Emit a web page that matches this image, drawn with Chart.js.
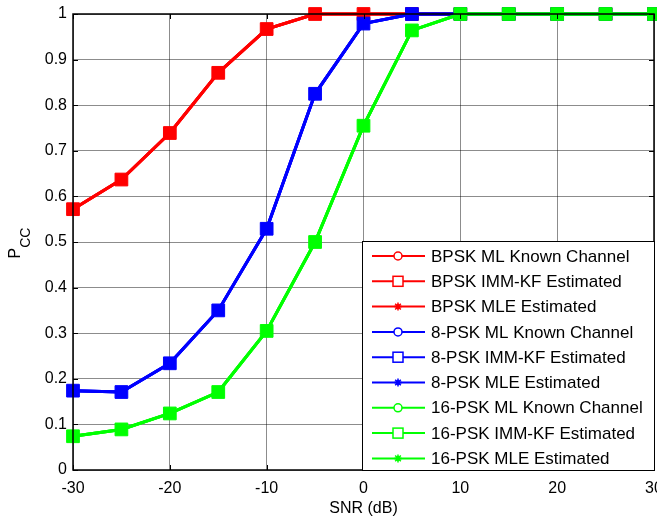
<!DOCTYPE html>
<html>
<head>
<meta charset="utf-8">
<title>Pcc vs SNR</title>
<script src="https://cdn.jsdelivr.net/npm/chart.js@4/dist/chart.umd.min.js"></script>
<style>
  html, body { margin: 0; padding: 0; background: #ffffff; }
  canvas { display: block; }
</style>
</head>
<body>
<canvas id="pccChart" width="657" height="520"></canvas>
<script>
// SNR grid (dB)
const snr = [-30, -25, -20, -15, -10, -5, 0, 5, 10, 15, 20, 25, 30];

// probability of correct classification per modulation
const bpskPcc  = [0.572, 0.637, 0.739, 0.871, 0.967, 1, 1, 1, 1, 1, 1, 1, 1];
const psk8Pcc  = [0.174, 0.171, 0.234, 0.350, 0.529, 0.825, 0.979, 1, 1, 1, 1, 1, 1];
const psk16Pcc = [0.074, 0.089, 0.124, 0.171, 0.305, 0.500, 0.755, 0.964, 1, 1, 1, 1, 1];

const xTicks = [-30, -20, -10, 0, 10, 20, 30];
const yTicks = [0, 0.1, 0.2, 0.3, 0.4, 0.5, 0.6, 0.7, 0.8, 0.9, 1];

const groups = [
    { name: 'BPSK', color: '#ff0000', values: bpskPcc },
    { name: '8-PSK', color: '#0000ff', values: psk8Pcc },
    { name: '16-PSK', color: '#00ff00', values: psk16Pcc }
];
const methods = [
    { label: 'ML Known Channel', style: 'circle' },
    { label: 'IMM-KF Estimated', style: 'rect' },
    { label: 'MLE Estimated', style: 'star' }
];

const FONT = 'Liberation Sans, Arial, Helvetica, sans-serif';

// build the 9 datasets (later ones drawn on top)
const datasets = [];
groups.forEach(g => {
    methods.forEach(m => {
        const i = datasets.length;
        datasets.push({
            label: g.name + ' ' + m.label,
            data: g.values.map((v, k) => ({ x: snr[k], y: v })),
            borderColor: g.color,
            backgroundColor: m.style === 'rect' ? g.color : 'rgba(0,0,0,0)',
            pointBorderColor: g.color,
            pointBackgroundColor: m.style === 'rect' ? g.color : 'rgba(0,0,0,0)',
            borderWidth: 3,
            pointStyle: m.style,
            pointRadius: m.style === 'rect' ? 9 : 5,
            pointBorderWidth: 1,
            pointHoverRadius: m.style === 'rect' ? 9 : 5,
            tension: 0,
            clip: 10,
            order: 9 - i,
            _marker: m.style
        });
    });
});

// frame, inward ticks, y label and legend box
const decorations = {
    id: 'decorations',
    afterDraw(chart) {
        const { ctx, chartArea: a, scales } = chart;
        ctx.save();

        // inward tick marks
        ctx.strokeStyle = '#000000';
        ctx.lineWidth = 1;
        ctx.beginPath();
        xTicks.forEach(t => {
            const x = Math.round(scales.x.getPixelForValue(t)) + 0.5;
            ctx.moveTo(x, a.bottom); ctx.lineTo(x, a.bottom - 5);
            ctx.moveTo(x, a.top); ctx.lineTo(x, a.top + 5);
        });
        yTicks.forEach(t => {
            const y = Math.round(scales.y.getPixelForValue(t)) + 0.5;
            ctx.moveTo(a.left, y); ctx.lineTo(a.left + 5, y);
            ctx.moveTo(a.right, y); ctx.lineTo(a.right - 5, y);
        });
        ctx.stroke();

        // axes box
        ctx.lineWidth = 1.5;
        ctx.strokeRect(a.left, a.top, a.right - a.left, a.bottom - a.top);

        // y label: P with subscript CC, rotated
        ctx.save();
        ctx.translate(20, 243);
        ctx.rotate(-Math.PI / 2);
        ctx.fillStyle = '#000000';
        ctx.textBaseline = 'alphabetic';
        ctx.textAlign = 'left';
        ctx.font = '16px ' + FONT;
        const pW = ctx.measureText('P').width;
        ctx.font = '14px ' + FONT;
        const ccW = ctx.measureText('CC').width;
        const start = -(pW + ccW) / 2;
        ctx.font = '16px ' + FONT;
        ctx.fillText('P', start, 0);
        ctx.font = '14px ' + FONT;
        ctx.fillText('CC', start + pW, 10);
        ctx.restore();

        // legend
        const box = { left: 362, top: 241, right: a.right, bottom: a.bottom };
        ctx.fillStyle = '#ffffff';
        ctx.fillRect(box.left, box.top, box.right - box.left, box.bottom - box.top);
        ctx.lineWidth = 1;
        ctx.strokeStyle = '#000000';
        ctx.strokeRect(box.left + 0.5, box.top + 0.5, box.right - box.left, box.bottom - box.top);

        ctx.font = '17px ' + FONT;
        ctx.textBaseline = 'middle';
        ctx.textAlign = 'left';
        datasets.forEach((ds, i) => {
            const y = 256 + i * 25.3;
            ctx.strokeStyle = ds.borderColor;
            ctx.lineWidth = 2;
            ctx.beginPath();
            ctx.moveTo(372, y);
            ctx.lineTo(425, y);
            ctx.stroke();
            ctx.lineWidth = 1.5;
            if (ds._marker === 'circle') {
                ctx.fillStyle = '#ffffff';
                ctx.beginPath();
                ctx.arc(398, y, 4, 0, Math.PI * 2);
                ctx.fill();
                ctx.stroke();
            } else if (ds._marker === 'rect') {
                ctx.fillStyle = '#ffffff';
                ctx.fillRect(393, y - 5, 10, 10);
                ctx.strokeRect(393, y - 5, 10, 10);
            } else {
                Chart.helpers.drawPoint(ctx, {
                    pointStyle: 'star', radius: 4, borderWidth: 2
                }, 398, y);
                ctx.fillStyle = ds.borderColor;
                ctx.beginPath();
                ctx.arc(398, y, 2.5, 0, Math.PI * 2);
                ctx.fill();
            }
            ctx.fillStyle = '#000000';
            ctx.fillText(ds.label, 431, y + 1);
        });

        ctx.restore();
    }
};

new Chart(document.getElementById('pccChart'), {
    type: 'line',
    data: { datasets: datasets },
    options: {
        responsive: false,
        animation: false,
        devicePixelRatio: 1,
        layout: { autoPadding: false, padding: { top: 14, right: 3, left: 0, bottom: 0 } },
        plugins: {
            legend: { display: false },
            tooltip: { enabled: false }
        },
        scales: {
            x: {
                type: 'linear',
                min: -30,
                max: 30,
                afterFit: s => { s.height = 50; s.paddingLeft = 0; s.paddingRight = 0; },
                afterBuildTicks: s => { s.ticks = xTicks.map(v => ({ value: v })); },
                grid: { color: 'rgba(0,0,0,0.45)', lineWidth: 1, drawTicks: false },
                border: { display: false },
                ticks: {
                    color: '#000000',
                    font: { family: FONT, size: 16 },
                    padding: 9,
                    maxRotation: 0
                },
                title: {
                    display: true,
                    text: 'SNR (dB)',
                    color: '#000000',
                    font: { family: FONT, size: 16 },
                    padding: { top: 0, bottom: 2 }
                }
            },
            y: {
                type: 'linear',
                min: 0,
                max: 1,
                afterFit: s => { s.width = 73; s.paddingTop = 0; s.paddingBottom = 0; },
                afterBuildTicks: s => { s.ticks = yTicks.map(v => ({ value: v })); },
                grid: { color: 'rgba(0,0,0,0.45)', lineWidth: 1, drawTicks: false },
                border: { display: false },
                ticks: {
                    color: '#000000',
                    font: { family: FONT, size: 16 },
                    padding: 6,
                    callback: v => String(Math.round(v * 10) / 10)
                }
            }
        }
    },
    plugins: [decorations]
});
</script>
</body>
</html>
